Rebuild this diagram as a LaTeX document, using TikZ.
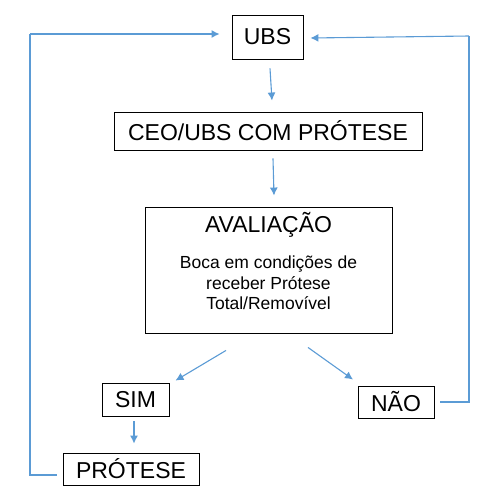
\documentclass[tikz,border=0pt]{standalone}
\usepackage{fontspec}
\setmainfont{Liberation Sans}
\usetikzlibrary{arrows.meta}
\definecolor{flowblue}{RGB}{91,155,213}
\tikzset{
  box/.style={draw=black, line width=0.9pt, inner sep=0pt, align=center,
    font=\fontsize{23}{26}\selectfont},
  flow/.style={draw=flowblue, line width=1.1pt, -{Latex[length=8pt,width=8pt]}},
  loop/.style={draw=flowblue, line width=1.1pt}
}
\begin{document}
\begin{tikzpicture}[x=1pt,y=-1pt]
    \useasboundingbox (0,0) rectangle (481,488);

    % Boxes
    \node[box, minimum width=71pt, minimum height=44pt] (ubs) at (267.5,37) {UBS};
    \node[box, minimum width=308pt, minimum height=38pt] (ceo) at (268,131) {CEO/UBS COM PRÓTESE};
    \node[box, minimum width=247pt, minimum height=126pt] (aval) at (268.5,270) {};
    \node[box, minimum width=67pt, minimum height=33pt] (sim) at (135.5,399.5) {SIM};
    \node[box, minimum width=76pt, minimum height=32pt] (nao) at (396,402) {NÃO};
    \node[box, minimum width=136pt, minimum height=32pt] (prot) at (131,469) {PRÓTESE};

    % Text inside AVALIACAO
    \node[font=\fontsize{23}{26}\selectfont] (avaltitle) at (268.5,225) {AVALIAÇÃO};
    \node[align=center, font=\fontsize{17.5}{20.5}\selectfont] (avaltext) at (268.5,283)
        {Boca em condições de\\receber Prótese\\Total/Removível};

    % Arrows down
    \draw[flow] ([xshift=2.5pt,yshift=-9pt]ubs.south) -- ([xshift=4pt,yshift=11pt]ceo.north);
    \draw[flow] ([xshift=5pt,yshift=-8pt]ceo.south) -- ([xshift=5.5pt,yshift=11pt]aval.north);
    \draw[flow] ([xshift=-42.5pt,yshift=-17pt]aval.south) -- ([xshift=40pt,yshift=2pt]sim.north);
    \draw[flow] ([xshift=39.5pt,yshift=-14pt]aval.south) -- ([xshift=-43pt,yshift=6pt]nao.north);
    \draw[flow] ([xshift=-1.5pt,yshift=-5pt]sim.south) -- ([xshift=3pt,yshift=9pt]prot.north);

    % Loops back to UBS
    \coordinate (lefttop) at (30,34);
    \coordinate (rightop) at (469,36);
    \draw[loop] ([xshift=-6pt,yshift=-6pt]prot.west) -| (lefttop);
    \draw[flow] (lefttop) -- ([xshift=-12pt,yshift=3pt]ubs.west);
    \draw[loop] ([xshift=6pt]nao.east) -| (rightop);
    \draw[flow] (rightop) -- ([xshift=7pt,yshift=-1pt]ubs.east);
\end{tikzpicture}
\end{document}
